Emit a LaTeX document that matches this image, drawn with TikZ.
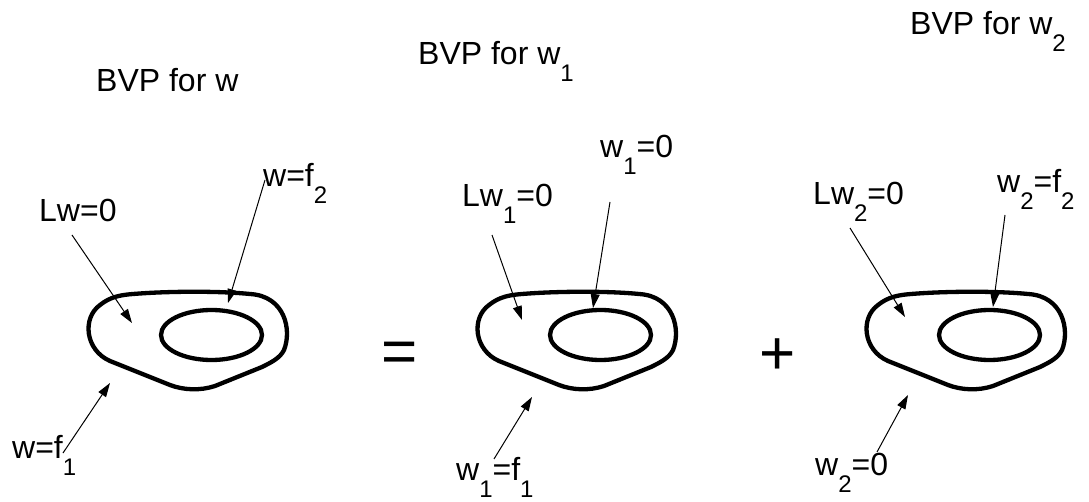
\documentclass[tikz,border=0pt]{standalone}
\usepackage{fontspec}
\setmainfont{Liberation Sans}
\usetikzlibrary{arrows.meta,calc}

\newcommand{\lowsub}[1]{\raisebox{-17pt}{\fontsize{24}{26}\selectfont #1}}

\tikzset{
    labeltext/.style={anchor=base west, inner sep=0pt, font=\fontsize{32}{38}\selectfont},
    pointer/.style={line width=1pt, -{Triangle[length=14pt,width=9pt]}},
    bigsign/.style={inner sep=0pt, font=\fontsize{62}{70}\selectfont},
    region/.pic={
        \draw[line width=4.3pt, line join=round] (133,294)
            .. controls (170,291) and (220,291) .. (250,294)
            .. controls (285,296) and (292,330) .. (284,350)
            .. controls (280,358) and (272,362) .. (262,367)
            -- (215,386)
            .. controls (200,391) and (183,390) .. (170,385)
            -- (110,361)
            .. controls (85,350) and (82,318) .. (100,305)
            .. controls (110,297) and (120,295) .. (133,294) -- cycle;
        \draw[line width=4.3pt] (211.5,335) ellipse [x radius=50.5, y radius=25];
    }
}

\begin{document}
\begin{tikzpicture}[x=1pt, y=-1pt]
    \useasboundingbox (0,0) rectangle (1089,502);

    % Titles
    \node[labeltext] (title w)  at (96,92)  {BVP for w};
    \node[labeltext] (title w1) at (418,65) {BVP for w\lowsub{1}};
    \node[labeltext] (title w2) at (910,35) {BVP for w\lowsub{2}};

    % First domain
    \pic at (0,0) {region};
    \node[labeltext] (lw)  at (39,222)  {Lw=0};
    \node[labeltext] (wf2) at (263,187) {w=f\lowsub{2}};
    \node[labeltext] (wf1) at (12,458)  {w=f\lowsub{1}};
    \coordinate (lw tail)  at (72,235);  \coordinate (lw tip)  at (132,323);
    \coordinate (wf2 tail) at (265,180); \coordinate (wf2 tip) at (228,303);
    \coordinate (wf1 tail) at (63,453);  \coordinate (wf1 tip) at (110,383);
    \draw[pointer] (lw tail) -- (lw tip);
    \draw[pointer] (wf2 tail) -- (wf2 tip);
    \draw[pointer] (wf1 tail) -- (wf1 tip);

    \node[bigsign] (equals) at (400,357) {=};

    % Second domain (shifted to the right)
    \pic at (389,0) {region};
    \node[labeltext] (lw1)  at (462,207) {Lw\lowsub{1}=0};
    \node[labeltext] (w1in) at (600,158) {w\lowsub{1}=0};
    \node[labeltext] (w1out) at (456,480) {w\lowsub{1}=f\lowsub{1}};
    \coordinate (lw1 tail)   at (492,235); \coordinate (lw1 tip)   at (522,320);
    \coordinate (w1in tail)  at (610,202); \coordinate (w1in tip)  at (593,308);
    \coordinate (w1out tail) at (494,459); \coordinate (w1out tip) at (532,397);
    \draw[pointer] (lw1 tail) -- (lw1 tip);
    \draw[pointer] (w1in tail) -- (w1in tip);
    \draw[pointer] (w1out tail) -- (w1out tip);

    \node[bigsign] (plus) at (778,357) {+};

    % Third domain
    \pic at (778,0) {region};
    \node[labeltext] (lw2)   at (813,205) {Lw\lowsub{2}=0};
    \node[labeltext] (w2in)  at (997,193) {w\lowsub{2}=f\lowsub{2}};
    \node[labeltext] (w2out) at (815,475) {w\lowsub{2}=0};
    \coordinate (lw2 tail)   at (850,228);  \coordinate (lw2 tip)   at (905,317);
    \coordinate (w2in tail)  at (1005,215); \coordinate (w2in tip)  at (993,307);
    \coordinate (w2out tail) at (877,452);  \coordinate (w2out tip) at (908,395);
    \draw[pointer] (lw2 tail) -- (lw2 tip);
    \draw[pointer] (w2in tail) -- (w2in tip);
    \draw[pointer] (w2out tail) -- (w2out tip);
\end{tikzpicture}
\end{document}
